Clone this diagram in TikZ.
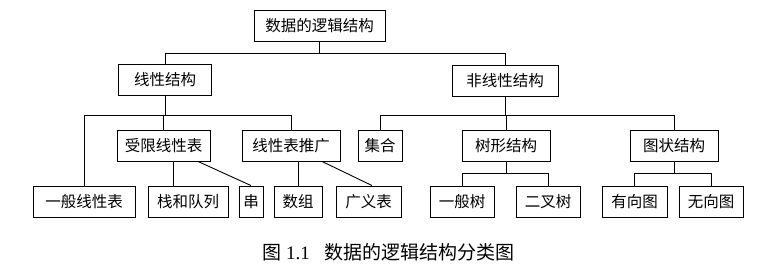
\documentclass[tikz,border=0pt]{standalone}
\usepackage{fontspec}
\setmainfont{Liberation Serif}
\newfontfamily\cjk{Noto Sans CJK SC}
\usetikzlibrary{positioning}

\begin{document}
\begin{tikzpicture}[
  x=1pt, y=-1pt,
  box/.style={draw, line width=0.9pt, minimum height=31pt, inner sep=0pt,
    font=\cjk\fontsize{15.5}{18}\selectfont},
  link/.style={line width=0.9pt}
]
\useasboundingbox (0,0) rectangle (777,269);

\node[box, minimum width=131pt] (root) at (319.5,26) {数据的逻辑结构};
\node[box, minimum width=93pt] (lin) at (165,79.5) {线性结构};
\node[box, minimum width=106pt] (nonlin) at (505,80.5) {非线性结构};

\node[box, minimum width=93pt] (restr) at (163.5,145.5) {受限线性表};
\node[box, minimum width=98pt] (gen) at (291,145.5) {线性表推广};
\node[box, minimum width=44pt] (set) at (380,145.5) {集合};
\node[box, minimum width=88pt] (tree) at (506,145.5) {树形结构};
\node[box, minimum width=88pt] (graph) at (674,145.5) {图状结构};

\node[box, minimum width=102pt] (genlist) at (84,201.5) {一般线性表};
\node[box, minimum width=80pt] (stack) at (188,201.5) {栈和队列};
\node[box, minimum width=24pt] (str) at (251,201.5) {串};
\node[box, minimum width=48pt] (arr) at (298,201.5) {数组};
\node[box, minimum width=65pt] (glist) at (368.5,201.5) {广义表};
\node[box, minimum width=64pt] (gtree) at (462,202) {一般树};
\node[box, minimum width=64pt] (btree) at (548,202) {二叉树};
\node[box, minimum width=65pt] (dg) at (634.5,202) {有向图};
\node[box, minimum width=64pt] (ug) at (711,202) {无向图};

\coordinate (b0) at (319.5,53);
\draw[link] (root) -- (b0);
\draw[link] (b0) -| (lin);
\draw[link] (b0) -| (nonlin);

\coordinate (b1) at (165,115);
\draw[link] (lin) -- (b1);
\draw[link] (b1) -| (genlist);
\draw[link] (b1 -| restr.north) -- (restr);
\draw[link] (b1) -| (gen);
\draw[link] (b1 -| genlist.north) -- (b1 -| restr.north);

\coordinate (b2) at (505,115);
\draw[link] (nonlin) -- (b2);
\draw[link] (b2) -| (set);
\draw[link] (b2) -| (graph);
\draw[link] (b2 -| tree.north) -- (tree);

\coordinate (s1) at (173,0);
\coordinate (s2) at (198,0);
\coordinate (s3) at (322,0);
\coordinate (s4) at (372,0);
\draw[link] (restr.south -| s1) -- (stack.north -| s1);
\draw[link] (restr.south -| s2) -- (str.north);
\draw[link] (arr.north) -- (arr.north |- gen.south);
\draw[link] (gen.south -| s3) -- (glist.north -| s4);

\coordinate (b3) at (506,173);
\draw[link] (tree) -- (b3);
\draw[link] (b3) -| (gtree);
\draw[link] (b3) -| (btree);

\coordinate (b4) at (674,173);
\draw[link] (graph) -- (b4);
\draw[link] (b4) -| (dg);
\draw[link] (b4) -| (ug);

\node[anchor=west, inner sep=0pt, font=\fontsize{19}{22}\selectfont] (cap) at (262,252)
  {{\cjk 图}\hspace{5pt}1.1\hspace{15pt}{\cjk 数据的逻辑结构分类图}};
\end{tikzpicture}
\end{document}
